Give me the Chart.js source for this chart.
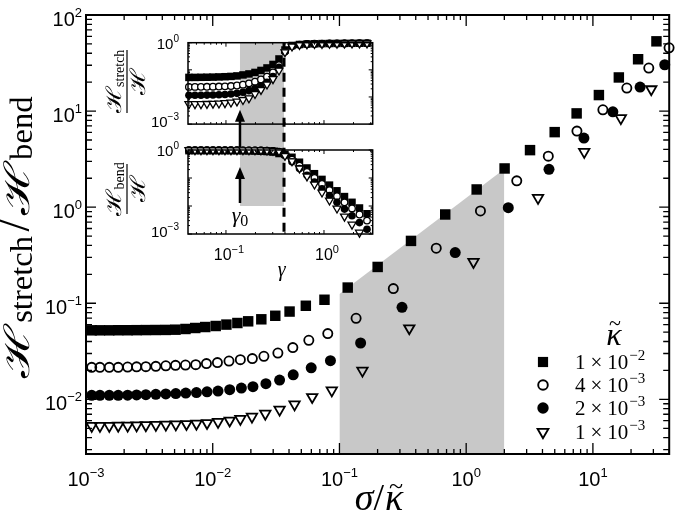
<!DOCTYPE html>
<html><head><meta charset="utf-8">
<script src="https://cdn.jsdelivr.net/npm/chart.js@4.4.1/dist/chart.umd.min.js"></script>
<style>
html,body{margin:0;padding:0;background:#fff;}
#wrap{position:relative;width:677px;height:527px;overflow:hidden;background:#fff;}
#wrap canvas{position:absolute;}
</style></head><body>
<div id="wrap">
<canvas id="main" width="677" height="527" style="left:0;top:0"></canvas>
<canvas id="itop" width="285" height="100" style="left:95px;top:30px"></canvas>
<canvas id="ibot" width="285" height="160" style="left:95px;top:130px"></canvas>
</div>
<script>
// ---------------- DATA ----------------
const xTickExps = [-3, -2, -1, 0, 1];
const yTickExps = [-2, -1, 0, 1, 2];
const legendMant = ['1', '4', '2', '1'];
const legendExp = ['−2', '−3', '−3', '−3'];

// kappa = 1e-2 (filled squares)
const sqX = [1.109e-3,1.288e-3,1.526e-3,1.796e-3,2.130e-3,2.507e-3,2.968e-3,3.557e-3,4.264e-3,5.085e-3,6.095e-3,7.28e-3,8.73e-3,1.056e-2,1.282e-2,1.565e-2,1.904e-2,2.418e-2,3.116e-2,4.04e-2,5.428e-2,7.617e-2,0.1162,0.2002,0.3669,0.6834,1.210,2.010,3.19,4.994,7.44,11.15,16.02,22.73,31.73];
const sqY = [0.0523,0.0523,0.0523,0.0524,0.0524,0.0525,0.0526,0.0527,0.0528,0.0531,0.0540,0.0553,0.0566,0.0580,0.0600,0.0623,0.0649,0.0681,0.0741,0.0820,0.0942,0.1088,0.1457,0.2388,0.4457,0.8395,1.529,2.529,3.924,6.04,9.463,14.68,22.39,34.64,53.21];
// kappa = 4e-3 (open circles)
const ocX = [1.109e-3,1.288e-3,1.526e-3,1.796e-3,2.130e-3,2.507e-3,2.968e-3,3.557e-3,4.264e-3,5.085e-3,6.095e-3,7.345e-3,8.92e-3,1.089e-2,1.344e-2,1.652e-2,2.054e-2,2.534e-2,3.267e-2,4.287e-2,5.731e-2,8.089e-2,0.1353,0.2662,0.5805,1.296,2.507,4.446,7.482,11.99,18.52,27.60,39.9];
const ocY = [0.02154,0.02154,0.02154,0.02154,0.02170,0.02180,0.02190,0.02206,0.02234,0.02260,0.02276,0.02298,0.02355,0.02412,0.02506,0.02591,0.02655,0.02805,0.03036,0.03455,0.04117,0.04834,0.06981,0.1422,0.3740,0.9129,1.879,3.398,6.19,10.31,17.36,28.05,45.6];
// kappa = 2e-3 (filled circles)
const fcX = [1.109e-3,1.288e-3,1.526e-3,1.796e-3,2.130e-3,2.507e-3,2.968e-3,3.557e-3,4.264e-3,5.113e-3,6.130e-3,7.44e-3,9.02e-3,1.101e-2,1.361e-2,1.683e-2,2.077e-2,2.628e-2,3.37e-2,4.318e-2,5.986e-2,8.49e-2,0.1469,0.3117,0.8193,2.149,4.503,8.495,14.37,23.57,36.89];
const fcY = [0.01101,0.01101,0.01101,0.01101,0.01106,0.01111,0.01119,0.01127,0.01138,0.01149,0.01163,0.01177,0.01197,0.01221,0.01262,0.01311,0.01356,0.01457,0.01589,0.01800,0.02129,0.02529,0.03859,0.09085,0.3374,0.988,2.475,5.233,9.83,17.78,30.36];
// kappa = 1e-3 (open down-triangles)
const trX = [1.109e-3,1.288e-3,1.526e-3,1.796e-3,2.130e-3,2.507e-3,2.968e-3,3.557e-3,4.264e-3,5.113e-3,6.208e-3,7.44e-3,9.02e-3,1.101e-2,1.361e-2,1.652e-2,2.039e-2,2.600e-2,3.37e-2,4.422e-2,6.095e-2,8.70e-2,0.1518,0.3557,1.142,3.689,8.54,16.61,28.88];
const trY = [0.005297,0.005297,0.005297,0.005321,0.005335,0.005361,0.005386,0.005425,0.005464,0.005491,0.005531,0.005584,0.005665,0.005830,0.006016,0.006266,0.006605,0.007096,0.007810,0.008869,0.01057,0.01241,0.01991,0.0549,0.2693,1.250,3.767,8.456,16.87];

// shaded region (top edge)
const shadeX = [0.1, 2];
const shadeY = [0.125, 2.5];

// inset data
const insetGamma = [0.0419,0.0483,0.0556,0.0640,0.0737,0.0848,0.0977,0.1125,0.1295,0.1491,0.1717,0.1977,0.2276,0.2621,0.3018,0.3474,0.3999,0.4716,0.5623,0.6707,0.8000,0.9541,1.138,1.357,1.619,1.931,2.302,2.747];
const sUp = [0.0526,0.0526,0.0530,0.0534,0.0539,0.0548,0.0558,0.0572,0.0597,0.0649,0.0707,0.0803,0.0950,0.1174,0.1579,0.2516,0.539,0.789,0.859,0.896,0.911,0.927,0.934,0.940,0.945,0.950,0.953,0.956];
const cUp = [0.0235,0.0235,0.0236,0.0237,0.0239,0.0242,0.0246,0.0253,0.0265,0.0285,0.0318,0.0365,0.0440,0.0560,0.0800,0.1500,0.480,0.756,0.850,0.890,0.910,0.925,0.932,0.938,0.943,0.948,0.951,0.954];
const fUp = [0.0115,0.0115,0.0116,0.0117,0.0118,0.0120,0.0123,0.0128,0.0136,0.0150,0.0172,0.0205,0.0260,0.0350,0.0560,0.1250,0.460,0.740,0.845,0.885,0.905,0.920,0.930,0.936,0.942,0.946,0.950,0.953];
const tUp = [0.0055,0.0055,0.0055,0.0056,0.0057,0.0058,0.0060,0.0063,0.0069,0.0078,0.0090,0.0130,0.0183,0.0290,0.0460,0.0950,0.450,0.730,0.840,0.880,0.900,0.915,0.925,0.932,0.938,0.943,0.947,0.950];
const sLo = [0.947,0.947,0.947,0.946,0.946,0.945,0.944,0.943,0.940,0.935,0.929,0.920,0.905,0.883,0.842,0.748,0.700,0.550,0.366,0.228,0.1425,0.0891,0.0557,0.0349,0.0217,0.01355,0.0085,0.0053];
const cLo = [0.977,0.977,0.976,0.976,0.976,0.976,0.975,0.975,0.974,0.972,0.968,0.964,0.956,0.944,0.920,0.850,0.660,0.454,0.275,0.166,0.1009,0.061,0.037,0.0224,0.01355,0.0082,0.00497,0.00301];
const fLo = [0.988,0.988,0.988,0.988,0.988,0.988,0.988,0.987,0.986,0.985,0.983,0.980,0.974,0.965,0.944,0.875,0.640,0.379,0.217,0.1247,0.0714,0.0411,0.0236,0.01355,0.00775,0.00447,0.00255,0.00147];
const tLo = [0.994,0.994,0.994,0.994,0.994,0.994,0.994,0.994,0.993,0.992,0.991,0.987,0.982,0.971,0.954,0.905,0.620,0.400,0.222,0.115,0.059,0.0306,0.0158,0.0082,0.00422,0.00218,0.00113,null];
const insetXTickExps = [-1, 0];
const insetYTickExps = [-3, 0];
const gamma0 = 0.139;
const gammaC = 0.391;
const gammaLabelAt = 0.37;
const insetShadeBottom = 1e-2;
const upArrow = {tailLo: 1.28, tipUp: 0.0034};
const loArrow = {tailLo: 0.0128, tipLo: 0.247};

// ---------------- HELPERS ----------------
const SERIF = "'Liberation Serif','DejaVu Serif',serif";
const SANS = "'Liberation Sans','DejaVu Sans',sans-serif";
const pts = (xs, ys) => xs.map((x, i) => ({x, y: ys[i]}));

function logTicks(min, max) {
  const major = [], minor = [];
  const e0 = Math.floor(Math.log10(min)), e1 = Math.ceil(Math.log10(max));
  for (let e = e0; e <= e1; e++) for (let m = 1; m <= 9; m++) {
    const v = m * Math.pow(10, e);
    if (v < min * 0.9999 || v > max * 1.0001) continue;
    (m === 1 ? major : minor).push(v);
  }
  return {major, minor};
}
function drawTicks(ctx, a, xs, ys, L) {
  const xt = logTicks(xs.min, xs.max), yt = logTicks(ys.min, ys.max);
  ctx.beginPath();
  const hx = (v, len) => { const p = xs.getPixelForValue(v); ctx.moveTo(p, a.bottom); ctx.lineTo(p, a.bottom - len); ctx.moveTo(p, a.top); ctx.lineTo(p, a.top + len); };
  const hy = (v, len) => { const p = ys.getPixelForValue(v); ctx.moveTo(a.left, p); ctx.lineTo(a.left + len, p); ctx.moveTo(a.right, p); ctx.lineTo(a.right - len, p); };
  xt.major.forEach(v => hx(v, L.xMaj)); xt.minor.forEach(v => hx(v, L.xMin));
  yt.major.forEach(v => hy(v, L.yMaj)); yt.minor.forEach(v => hy(v, L.yMin));
  ctx.stroke();
}
function partW(ctx, p) { ctx.font = p.f; return ctx.measureText(p.t).width * (p.sx || 1); }
function richWidth(ctx, parts) {
  let w = 0;
  for (const p of parts) w += partW(ctx, p) + (p.gap || 0);
  return w;
}
function drawRich(ctx, parts, x, y, align) {
  const w = richWidth(ctx, parts);
  let cx = align === 'center' ? x - w / 2 : align === 'right' ? x - w : x;
  ctx.textAlign = 'left'; ctx.textBaseline = 'alphabetic';
  for (const p of parts) {
    const pw = partW(ctx, p);
    ctx.font = p.f;
    if (p.sx) {
      ctx.save(); ctx.translate(cx, y + (p.dy || 0)); ctx.scale(p.sx, 1);
      ctx.fillText(p.t, 0, 0); ctx.restore();
    } else {
      ctx.fillText(p.t, cx, y + (p.dy || 0));
    }
    cx += pw + (p.gap || 0);
  }
  return w;
}
function powParts(exp, bs, es, rise) {
  return [{t: '10', f: bs + 'px ' + SANS}, {t: (exp < 0 ? '−' : '') + Math.abs(exp), f: es + 'px ' + SANS, dy: -rise}];
}
function marker(ctx, style, x, y, r, rot, fill, bw) {
  ctx.save();
  ctx.fillStyle = fill; ctx.strokeStyle = '#000'; ctx.lineWidth = bw;
  Chart.helpers.drawPoint(ctx, {pointStyle: style, radius: r, rotation: rot, borderWidth: bw}, x, y);
  ctx.restore();
}

// ---------------- INSETS ----------------
const imk = {
  sq: {pointStyle: 'rect', pointRadius: 5.3, pointBackgroundColor: '#000', pointBorderColor: '#000', pointBorderWidth: 0},
  oc: {pointStyle: 'circle', pointRadius: 3.3, pointBackgroundColor: '#fff', pointBorderColor: '#000', pointBorderWidth: 1.3},
  fc: {pointStyle: 'circle', pointRadius: 3.8, pointBackgroundColor: '#000', pointBorderColor: '#000', pointBorderWidth: 0},
  tr: {pointStyle: 'triangle', pointRadius: 4.6, pointRotation: 180, pointBackgroundColor: '#fff', pointBorderColor: '#000', pointBorderWidth: 1.3}
};

function insetFrame(isBottom) {
  return {
    id: 'insetFrame',
    afterDatasetsDraw(chart) {
      const {ctx, chartArea: a, scales: {x, y}} = chart;
      ctx.save();
      ctx.strokeStyle = '#000'; ctx.fillStyle = '#000';
      ctx.lineWidth = 1;
      drawTicks(ctx, a, x, y, {xMaj: 4, xMin: 2, yMaj: 4, yMin: 2});
      ctx.lineWidth = 1.5;
      ctx.strokeRect(a.left, a.top, a.right - a.left, a.bottom - a.top);
      insetYTickExps.forEach(e => {
        const p = y.getPixelForValue(Math.pow(10, e));
        const base = e === 0 ? p + 6 : p + 3;
        drawRich(ctx, powParts(e, 15, 10, 7), 84, base, 'right');
      });
      ctx.save();
      const cx = 32, cy = isBottom ? 59 : 51.5;
      ctx.translate(cx, cy); ctx.rotate(-Math.PI / 2);
      const num = isBottom
        ? [{t: 'ℋ', f: '21px ' + SERIF, sx: 1.2}, {t: 'bend', f: '14px ' + SERIF, dy: 3}]
        : [{t: 'ℋ', f: '21px ' + SERIF, sx: 1.2}, {t: 'stretch', f: '14px ' + SERIF, dy: 3}];
      drawRich(ctx, num, 0, -6, 'center');
      drawRich(ctx, [{t: 'ℋ', f: '21px ' + SERIF, sx: 1.2}], 0, 18, 'center');
      const bl = isBottom ? 50 : 63;
      ctx.lineWidth = 1.2; ctx.beginPath(); ctx.moveTo(-bl / 2, 0); ctx.lineTo(bl / 2, 0); ctx.stroke();
      ctx.restore();
      if (isBottom) {
        insetXTickExps.forEach(e => {
          const p = x.getPixelForValue(Math.pow(10, e));
          drawRich(ctx, powParts(e, 16, 11, 7), p + 3, a.bottom + 26, 'center');
        });
        ctx.font = 'italic 20px ' + SERIF; ctx.textAlign = 'center';
        ctx.fillText('γ', x.getPixelForValue(gammaLabelAt), a.bottom + 42);
        const gx = x.getPixelForValue(gamma0);
        drawRich(ctx, [{t: 'γ', f: 'italic 22px ' + SERIF}, {t: '0', f: '16px ' + SERIF, dy: 4}], gx, a.bottom - 12, 'center');
      }
      ctx.restore();
    }
  };
}

function makeInset(id, arrs, padding, isBottom) {
  return new Chart(document.getElementById(id), {
    type: 'scatter',
    data: {datasets: [
      Object.assign({data: pts(insetGamma, arrs[3]), order: 1, clip: false}, imk.tr),
      Object.assign({data: pts(insetGamma, arrs[2]), order: 2, clip: false}, imk.fc),
      Object.assign({data: pts(insetGamma, arrs[1]), order: 3, clip: false}, imk.oc),
      Object.assign({data: pts(insetGamma, arrs[0]), order: 4, clip: false}, imk.sq)
    ]},
    options: {
      responsive: false, animation: false, events: [],
      layout: {padding},
      scales: {
        x: {type: 'logarithmic', min: 0.041, max: 3.14, display: false},
        y: {type: 'logarithmic', min: 1e-3, max: 1, display: false}
      },
      plugins: {legend: {display: false}, tooltip: {enabled: false}}
    },
    plugins: [insetFrame(isBottom)]
  });
}
const insetTop = makeInset('itop', [sUp, cUp, fUp, tUp], {left: 93, right: 7.3, top: 12.7, bottom: 5.7}, false);
const insetBot = makeInset('ibot', [sLo, cLo, fLo, tLo], {left: 93, right: 7.3, top: 20, bottom: 56}, true);

// ---------------- MAIN ----------------
function drawInsetDecor(ctx) {
  const T = insetTop, B = insetBot;
  const ox = 95, oyT = 30, oyB = 130;
  const xl = ox + T.scales.x.getPixelForValue(gamma0);
  const xr = ox + T.scales.x.getPixelForValue(gammaC);
  const yTop = oyT + T.scales.y.getPixelForValue(1);
  const yShadeBot = oyB + B.scales.y.getPixelForValue(insetShadeBottom);
  const yBot = oyB + B.scales.y.getPixelForValue(1e-3);
  ctx.save();
  ctx.fillStyle = '#c8c8c8';
  ctx.fillRect(xl, yTop, xr - xl, yShadeBot - yTop);
  ctx.strokeStyle = '#000'; ctx.lineWidth = 3; ctx.setLineDash([9, 6]);
  ctx.beginPath(); ctx.moveTo(xr, yTop); ctx.lineTo(xr, yBot); ctx.stroke();
  ctx.setLineDash([]);
  const arrow = (x, y0, y1) => {
    ctx.lineWidth = 2.5; ctx.beginPath(); ctx.moveTo(x, y0); ctx.lineTo(x, y1 + 10); ctx.stroke();
    ctx.beginPath(); ctx.moveTo(x, y1); ctx.lineTo(x - 5, y1 + 12); ctx.lineTo(x + 5, y1 + 12); ctx.closePath(); ctx.fillStyle = '#000'; ctx.fill();
  };
  arrow(xl, oyB + B.scales.y.getPixelForValue(upArrow.tailLo), oyT + T.scales.y.getPixelForValue(upArrow.tipUp));
  arrow(xl, oyB + B.scales.y.getPixelForValue(loArrow.tailLo), oyB + B.scales.y.getPixelForValue(loArrow.tipLo));
  ctx.restore();
}

const mainFrame = {
  id: 'mainFrame',
  beforeDatasetsDraw(chart) { drawInsetDecor(chart.ctx); },
  afterDatasetsDraw(chart) {
    const {ctx, chartArea: a, scales: {x, y}} = chart;
    ctx.save();
    ctx.strokeStyle = '#000'; ctx.fillStyle = '#000';
    ctx.lineWidth = 1.3;
    drawTicks(ctx, a, x, y, {xMaj: 11, xMin: 5, yMaj: 10, yMin: 6});
    ctx.lineWidth = 2;
    ctx.strokeRect(a.left, a.top, a.right - a.left, a.bottom - a.top);
    xTickExps.forEach(e => drawRich(ctx, powParts(e, 20, 13, 9), x.getPixelForValue(Math.pow(10, e)), 486, 'center'));
    yTickExps.forEach(e => drawRich(ctx, powParts(e, 20, 13, 9), 82, y.getPixelForValue(Math.pow(10, e)) + 11, 'right'));
    // x title
    const xt = [{t: 'σ', f: 'italic 38px ' + SERIF}, {t: '/', f: '38px ' + SERIF, gap: 1}, {t: 'κ', f: 'italic 38px ' + SERIF}];
    const w = drawRich(ctx, xt, 379, 510, 'center');
    ctx.font = 'italic 38px ' + SERIF;
    const kw = ctx.measureText('κ').width;
    ctx.font = '26px ' + SERIF; ctx.textAlign = 'center';
    ctx.fillText('~', 379 + w / 2 - kw / 2 + 2, 494);
    // y title
    ctx.save();
    ctx.translate(29, 237); ctx.rotate(-Math.PI / 2);
    const yt = [
      {t: 'ℋ', f: '32px ' + SERIF, sx: 1.45, gap: 1}, {t: 'stretch', f: '30px ' + SERIF, dy: 3, gap: 4},
      {t: '/', f: '42px ' + SERIF, gap: 4},
      {t: 'ℋ', f: '32px ' + SERIF, sx: 1.45, gap: 1}, {t: 'bend', f: '30px ' + SERIF, dy: 3}
    ];
    const W = richWidth(ctx, yt);
    const s = 281 / W;
    ctx.scale(s, s);
    drawRich(ctx, yt, 0, 0, 'center');
    ctx.restore();
    // legend
    ctx.font = 'italic 32px ' + SERIF; ctx.textAlign = 'center';
    ctx.fillText('κ', 614, 345);
    ctx.font = '22px ' + SERIF;
    ctx.fillText('~', 615, 330);
    const rows = [362, 385, 408, 432];
    const lm = [
      ['rect', 7.2, 0, '#000', 0], ['circle', 4.8, 0, 'rgba(0,0,0,0)', 1.9],
      ['circle', 5.7, 0, '#000', 0], ['triangle', 6.2, 180, 'rgba(0,0,0,0)', 1.9]
    ];
    rows.forEach((ry, i) => {
      marker(ctx, lm[i][0], 543, ry, lm[i][1], lm[i][2], lm[i][3], lm[i][4]);
      ctx.fillStyle = '#000';
      drawRich(ctx, [
        {t: legendMant[i], f: '21px ' + SERIF, gap: 5},
        {t: '×', f: '21px ' + SERIF, gap: 5},
        {t: '10', f: '21px ' + SERIF, gap: 1},
        {t: legendExp[i], f: '15px ' + SERIF, dy: -9}
      ], 575, ry + 7, 'left');
    });
    ctx.restore();
  }
};

const mk = {
  sq: {pointStyle: 'rect', pointRadius: 7.4, pointBackgroundColor: '#000', pointBorderColor: '#000', pointBorderWidth: 0},
  oc: {pointStyle: 'circle', pointRadius: 4.6, pointBackgroundColor: 'rgba(0,0,0,0)', pointBorderColor: '#000', pointBorderWidth: 1.8},
  fc: {pointStyle: 'circle', pointRadius: 5.5, pointBackgroundColor: '#000', pointBorderColor: '#000', pointBorderWidth: 0},
  tr: {pointStyle: 'triangle', pointRadius: 6, pointRotation: 180, pointBackgroundColor: 'rgba(0,0,0,0)', pointBorderColor: '#000', pointBorderWidth: 1.8}
};

new Chart(document.getElementById('main'), {
  type: 'scatter',
  data: {datasets: [
    Object.assign({label: '1e-3', data: pts(trX, trY), order: 1, clip: false}, mk.tr),
    Object.assign({label: '2e-3', data: pts(fcX, fcY), order: 2, clip: false}, mk.fc),
    Object.assign({label: '4e-3', data: pts(ocX, ocY), order: 3, clip: false}, mk.oc),
    Object.assign({label: '1e-2', data: pts(sqX, sqY), order: 4, clip: false}, mk.sq),
    {type: 'line', label: 'shade', data: pts(shadeX, shadeY), order: 10, showLine: true, fill: 'start',
     backgroundColor: '#c8c8c8', borderColor: 'rgba(0,0,0,0)', borderWidth: 0, pointRadius: 0, tension: 0}
  ]},
  options: {
    responsive: false, animation: false, events: [],
    layout: {padding: {left: 86, top: 15, right: 7, bottom: 73}},
    scales: {
      x: {type: 'logarithmic', min: 1e-3, max: 40, display: false},
      y: {type: 'logarithmic', min: 0.0027, max: 100, display: false}
    },
    plugins: {legend: {display: false}, tooltip: {enabled: false}}
  },
  plugins: [mainFrame]
});
</script>
</body></html>
